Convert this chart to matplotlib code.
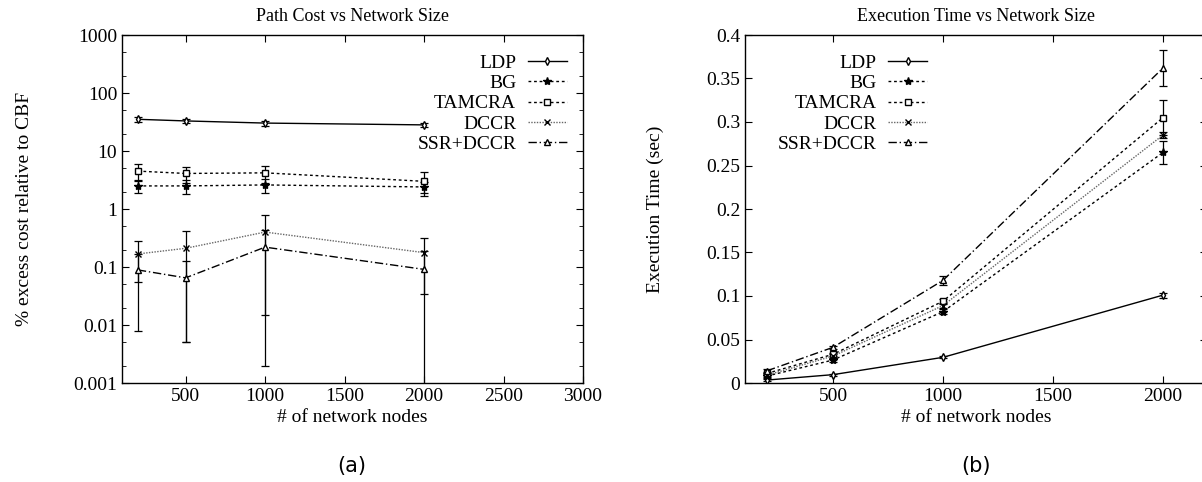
import numpy as np
import matplotlib
matplotlib.use('Agg')
import matplotlib.pyplot as plt
from matplotlib.ticker import FormatStrFormatter, FixedLocator, LogLocator, NullFormatter

plt.rcParams['font.family'] = ['Liberation Serif', 'DejaVu Serif']

nodes = [200, 500, 1000, 2000]
labels = ['LDP', 'BG', 'TAMCRA', 'DCCR', 'SSR+DCCR']

# (a) path cost, % excess over CBF
cost_ldp = [35.2, 33.0, 30.3, 28.2]
cost_ldp_err = [3.0, 3.0, 3.0, 2.5]
cost_bg = [2.5, 2.5, 2.6, 2.4]
cost_bg_err = [0.63, 0.7, 0.74, 0.54]
cost_tam = [4.5, 4.1, 4.2, 3.0]
cost_tam_err = [1.4, 1.3, 1.4, 1.3]
cost_dccr = [0.168, 0.21, 0.40, 0.177]
cost_dccr_err = [0.113, 0.205, 0.385, 0.143]
cost_ssr = [0.089, 0.065, 0.22, 0.091]
cost_ssr_err = [0.081, 0.06, 0.218, 0.095]

# (b) execution time (sec)
time_ldp = [0.0034, 0.0096, 0.0295, 0.101]
time_ldp_err = [0.001, 0.001, 0.001, 0.003]
time_bg = [0.008, 0.0264, 0.082, 0.265]
time_bg_err = [0.002, 0.002, 0.003, 0.013]
time_tam = [0.011, 0.033, 0.094, 0.305]
time_tam_err = [0.002, 0.002, 0.003, 0.02]
time_dccr = [0.009, 0.031, 0.089, 0.285]
time_dccr_err = [0.002, 0.002, 0.003, 0.003]
time_ssr = [0.014, 0.041, 0.118, 0.362]
time_ssr_err = [0.002, 0.002, 0.005, 0.021]

styles = [
    dict(color='black', linestyle='-', marker='d', mfc='white', ms=4, lw=1.0),
    dict(color='black', linestyle=(0, (2, 2)), marker='*', mfc='black', ms=6, lw=1.0),
    dict(color='black', linestyle=(0, (2, 2)), marker='s', mfc='white', ms=5, lw=1.0),
    dict(color='#666666', linestyle=(0, (1, 1)), marker='x', mec='black', ms=5, lw=1.0),
    dict(color='black', linestyle=(0, (6, 2, 1, 2)), marker='^', mfc='white', ms=5, lw=1.0),
]


def draw(ax, series, errs):
    for lab, y, e, st in zip(labels, series, errs, styles):
        ax.errorbar(nodes, y, yerr=e, fmt='none', ecolor='black', elinewidth=0.9,
                    capsize=3, capthick=0.9, zorder=2)
        ax.plot(nodes, y, label=lab, zorder=3, **st)


def style_axes(ax):
    ax.tick_params(which='both', direction='in', top=True, right=True, labelsize=14)
    ax.tick_params(which='major', length=5, width=0.8)
    ax.tick_params(which='minor', length=3, width=0.6)
    for s in ax.spines.values():
        s.set_linewidth(1.0)


def add_legend(ax, right):
    ax.legend(loc='upper right', bbox_to_anchor=(right, 0.944), frameon=False,
              markerfirst=False, fontsize=14, handlelength=2.0, handletextpad=0.6,
              labelspacing=0.13, borderpad=0, borderaxespad=0, numpoints=1)


fig = plt.figure(figsize=(12.02, 4.82), dpi=100)
ax1 = fig.add_axes([122 / 1202, 99 / 482, 461 / 1202, 348 / 482])
ax2 = fig.add_axes([745 / 1202, 99 / 482, 462 / 1202, 348 / 482])

# panel (a)
draw(ax1, [cost_ldp, cost_bg, cost_tam, cost_dccr, cost_ssr],
     [cost_ldp_err, cost_bg_err, cost_tam_err, cost_dccr_err, cost_ssr_err])
ax1.set_yscale('log')
ax1.set_xlim(100, 3000)
ax1.set_ylim(0.001, 1000)
ax1.xaxis.set_major_locator(FixedLocator([500, 1000, 1500, 2000, 2500, 3000]))
ax1.yaxis.set_major_locator(LogLocator(base=10, numticks=10))
ax1.yaxis.set_major_formatter(FormatStrFormatter('%g'))
ax1.yaxis.set_minor_locator(LogLocator(base=10, subs=[2, 5], numticks=10))
ax1.yaxis.set_minor_formatter(NullFormatter())
style_axes(ax1)
ax1.set_title('Path Cost vs Network Size', fontsize=13, pad=10)
ax1.set_xlabel('# of network nodes', fontsize=14, labelpad=3)
ax1.set_ylabel('% excess cost relative to CBF', fontsize=14, labelpad=29)
add_legend(ax1, 0.965)

# panel (b)
draw(ax2, [time_ldp, time_bg, time_tam, time_dccr, time_ssr],
     [time_ldp_err, time_bg_err, time_tam_err, time_dccr_err, time_ssr_err])
ax2.set_xlim(100, 2200)
ax2.set_ylim(0, 0.4)
ax2.xaxis.set_major_locator(FixedLocator([500, 1000, 1500, 2000]))
ax2.yaxis.set_major_locator(FixedLocator(np.arange(0, 0.401, 0.05)))
ax2.yaxis.set_major_formatter(FormatStrFormatter('%g'))
style_axes(ax2)
ax2.set_title('Execution Time vs Network Size', fontsize=13, pad=10)
ax2.set_xlabel('# of network nodes', fontsize=14, labelpad=3)
ax2.set_ylabel('Execution Time (sec)', fontsize=14, labelpad=30)
add_legend(ax2, 0.394)

fig.text(352 / 1202, 1 - 466 / 482, '(a)', fontsize=15, ha='center', va='center',
         family='DejaVu Sans')
fig.text(976 / 1202, 1 - 466 / 482, '(b)', fontsize=15, ha='center', va='center',
         family='DejaVu Sans')

fig.savefig('out.png', dpi=100)
